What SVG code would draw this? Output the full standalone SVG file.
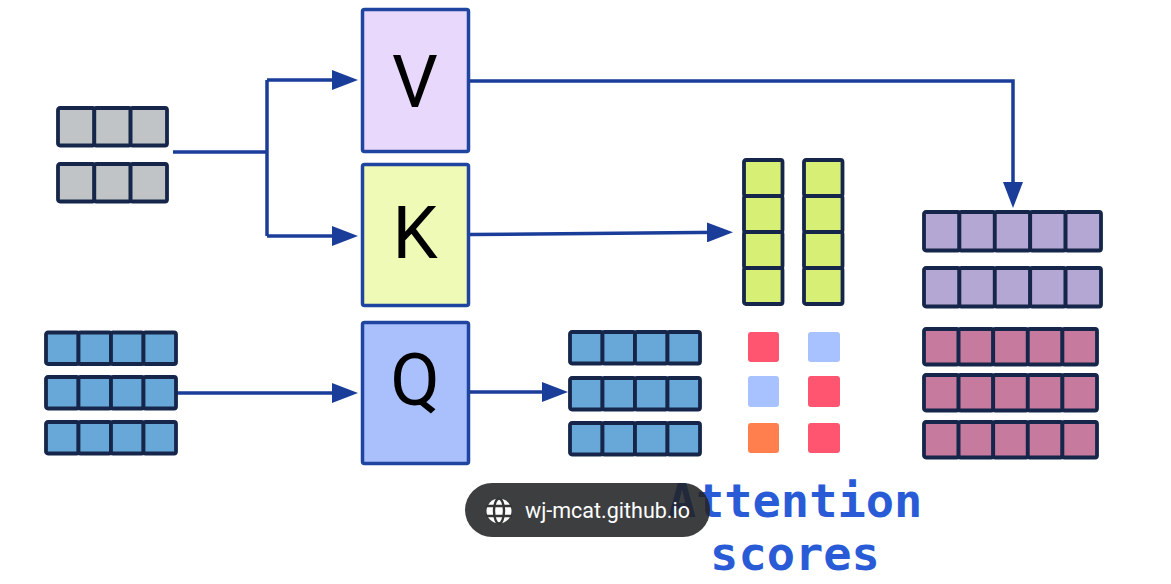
<svg xmlns="http://www.w3.org/2000/svg" width="1171" height="584" viewBox="0 0 1171 584">
<style>
.cell{stroke:#15264a;stroke-width:3.8;}
.gray{fill:#c0c4c6;}
.blue{fill:#68a8d8;}
.green{fill:#d6ef74;}
.purple{fill:#b5a7d3;}
.pink{fill:#c57a9e;}
.box{stroke:#1f45a0;stroke-width:3.5;}
.letter{font-family:Roboto,"Liberation Sans",Arial,sans-serif;font-size:72px;fill:#000;text-anchor:middle;}
.conn{fill:none;stroke:#1a3d99;stroke-width:3.5;}
.score{font-family:"DejaVu Sans Mono","Liberation Mono",monospace;font-weight:bold;font-size:47px;fill:#2a5bd7;text-anchor:middle;}
</style>
<defs>
<marker id="arr" markerUnits="userSpaceOnUse" markerWidth="26" markerHeight="20" viewBox="0 0 26 20" refX="18" refY="10" orient="auto">
<path d="M0,0 L26,10 L0,20 z" fill="#1a3d99"/>
</marker>
<g id="g3"><rect class="cell gray" x="0" y="0" width="36.3" height="37.5" rx="2"/><rect class="cell gray" x="36.3" y="0" width="36.3" height="37.5" rx="2"/><rect class="cell gray" x="72.6" y="0" width="36.4" height="37.5" rx="2"/></g>
<g id="b4"><rect class="cell blue" x="0" y="0" width="32.5" height="31.5" rx="2"/><rect class="cell blue" x="32.5" y="0" width="32.5" height="31.5" rx="2"/><rect class="cell blue" x="65" y="0" width="32.5" height="31.5" rx="2"/><rect class="cell blue" x="97.5" y="0" width="32.5" height="31.5" rx="2"/></g>
<g id="gcol"><rect class="cell green" x="0" y="0" width="38.5" height="36" rx="2"/><rect class="cell green" x="0" y="36" width="38.5" height="36" rx="2"/><rect class="cell green" x="0" y="72" width="38.5" height="36" rx="2"/><rect class="cell green" x="0" y="108" width="38.5" height="36" rx="2"/></g>
<g id="p5"><rect class="cell purple" x="0" y="0" width="35.4" height="38.5" rx="2"/><rect class="cell purple" x="35.4" y="0" width="35.4" height="38.5" rx="2"/><rect class="cell purple" x="70.8" y="0" width="35.4" height="38.5" rx="2"/><rect class="cell purple" x="106.2" y="0" width="35.4" height="38.5" rx="2"/><rect class="cell purple" x="141.6" y="0" width="35.4" height="38.5" rx="2"/></g>
<g id="k5"><rect class="cell pink" x="0" y="0" width="34.6" height="35.5" rx="2"/><rect class="cell pink" x="34.6" y="0" width="34.6" height="35.5" rx="2"/><rect class="cell pink" x="69.2" y="0" width="34.6" height="35.5" rx="2"/><rect class="cell pink" x="103.8" y="0" width="34.6" height="35.5" rx="2"/><rect class="cell pink" x="138.4" y="0" width="34.6" height="35.5" rx="2"/></g>
</defs>
<rect width="1171" height="584" fill="#fff"/>

<g id="connectors">
<path class="conn" d="M173,152 H267"/>
<path class="conn" d="M267,80 V236"/>
<path class="conn" d="M267,80 H350" marker-end="url(#arr)"/>
<path class="conn" d="M267,236 H350" marker-end="url(#arr)"/>
<path class="conn" d="M177,393 H350" marker-end="url(#arr)"/>
<path class="conn" d="M470,81 H1013 V200" marker-end="url(#arr)"/>
<path class="conn" d="M470,234.5 L725,232.2" marker-end="url(#arr)"/>
<path class="conn" d="M470,392 H560" marker-end="url(#arr)"/>
</g>

<g id="input-x">
<use href="#g3" x="58" y="108"/>
<use href="#g3" x="58" y="164"/>
</g>

<g id="input-q">
<use href="#b4" x="46" y="332.5"/>
<use href="#b4" x="46" y="377"/>
<use href="#b4" x="46" y="422"/>
</g>

<g id="node-V">
<rect class="box" x="362.5" y="9.5" width="106" height="142" rx="2" fill="#e8d8fc"/>
<text class="letter" x="415" y="107">V</text>
</g>
<g id="node-K">
<rect class="box" x="362.5" y="164.5" width="106" height="141" rx="2" fill="#eefab5"/>
<text class="letter" x="415" y="258">K</text>
</g>
<g id="node-Q">
<rect class="box" x="362.5" y="322.5" width="106" height="141" rx="2" fill="#a9c0fc"/>
<text class="letter" x="415" y="405">Q</text>
</g>

<g id="query-out">
<use href="#b4" x="570" y="332"/>
<use href="#b4" x="570" y="378"/>
<use href="#b4" x="570" y="423"/>
</g>

<g id="keys">
<use href="#gcol" x="744" y="160"/>
<use href="#gcol" x="804" y="160"/>
</g>

<g id="attention-scores">
<rect x="748" y="332" width="31" height="30" rx="3" fill="#ff5570"/>
<rect x="808" y="332" width="32" height="30" rx="3" fill="#a8c2ff"/>
<rect x="748" y="376" width="31" height="31" rx="3" fill="#a8c2ff"/>
<rect x="808" y="376" width="32" height="31" rx="3" fill="#ff5570"/>
<rect x="748" y="423" width="31" height="30" rx="3" fill="#ff7f4f"/>
<rect x="808" y="423" width="32" height="30" rx="3" fill="#ff5570"/>
<text class="score" x="795" y="517">Attention</text>
<text class="score" x="795" y="570">scores</text>
</g>

<g id="values">
<use href="#p5" x="924" y="212"/>
<use href="#p5" x="924" y="268"/>
</g>

<g id="output">
<use href="#k5" x="924" y="329"/>
<use href="#k5" x="924" y="375"/>
<use href="#k5" x="924" y="422"/>
</g>

<g id="url-pill">
<rect x="465" y="483" width="245" height="54" rx="27" fill="#202124" fill-opacity="0.87"/>
<circle cx="499" cy="511" r="12.5" fill="#fff"/>
<g fill="none" stroke="#353535" stroke-width="2.4">
<ellipse cx="499" cy="511" rx="5" ry="12.5"/>
<path d="M486,506 H512 M486,516 H512"/>
</g>
<text x="525" y="518" font-family="Roboto,'Liberation Sans',Arial,sans-serif" font-size="21.5" fill="#fff">wj-mcat.github.io</text>
</g>
</svg>
